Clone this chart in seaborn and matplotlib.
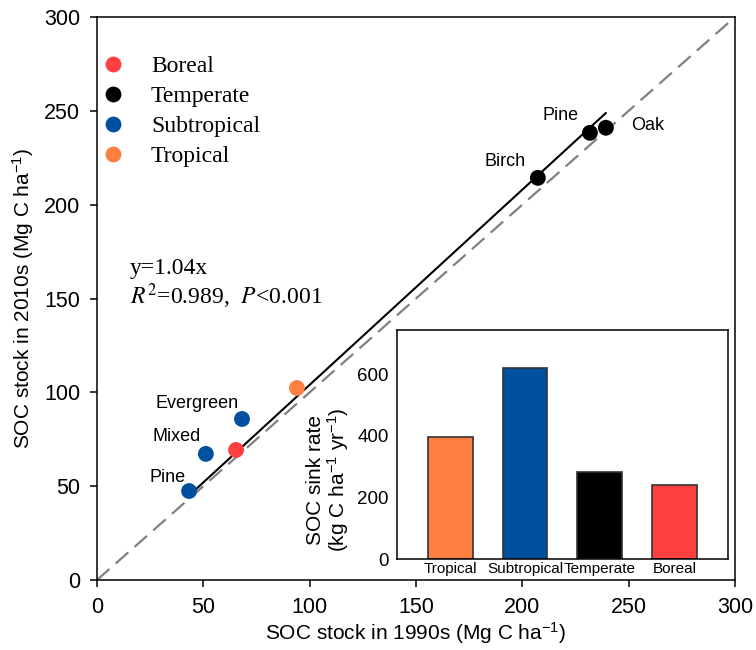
import numpy as np
import pandas as pd
import seaborn as sns
import matplotlib.pyplot as plt

sns.set_theme(style='white')
plt.rcParams['font.family'] = ['Liberation Sans', 'DejaVu Sans']
plt.rcParams['text.color'] = 'black'
plt.rcParams['axes.labelcolor'] = 'black'
plt.rcParams['xtick.color'] = 'black'
plt.rcParams['ytick.color'] = 'black'
plt.rcParams['mathtext.fontset'] = 'custom'
plt.rcParams['mathtext.rm'] = 'Liberation Sans'
plt.rcParams['mathtext.it'] = 'Liberation Sans:italic'

# SOC stock per forest type (Mg C ha-1)
climate = ['Boreal', 'Temperate', 'Temperate', 'Temperate',
           'Subtropical', 'Subtropical', 'Subtropical', 'Tropical']
forest = ['', 'Birch', 'Pine', 'Oak', 'Pine', 'Mixed', 'Evergreen', '']
soc_1990s = [65.4, 207.3, 231.8, 239.3, 43.3, 51.2, 68.2, 94.0]
soc_2010s = [69.3, 214.3, 238.3, 241.0, 47.4, 67.2, 85.8, 102.3]

# sink rate by climate zone (kg C ha-1 yr-1)
zones = ['Tropical', 'Subtropical', 'Temperate', 'Boreal']
sink_rate = [395, 620, 281, 241]

slope = 1.04
colors = {'Boreal': '#FF4040', 'Temperate': '#000000',
          'Subtropical': '#0050A0', 'Tropical': '#FF7F40'}
legend_order = ['Boreal', 'Temperate', 'Subtropical', 'Tropical']

df = pd.DataFrame({'climate': climate, 'forest': forest,
                   'x': soc_1990s, 'y': soc_2010s})

fig = plt.figure(figsize=(7.56, 6.5), dpi=100)
ax = fig.add_axes([0.1283, 0.1077, 0.8439, 0.8661])

# 1:1 line and fitted line
ax.plot([0, 300], [0, 300], color='#808080', lw=1.6, dashes=(7.5, 3.75), zorder=1)
xs = np.array([df.x.min(), df.x.max()])
ax.plot(xs, slope * xs, color='black', lw=1.5, zorder=2)

sns.scatterplot(data=df, x='x', y='y', hue='climate', hue_order=legend_order,
                palette=colors, s=130, linewidth=0, ax=ax, zorder=3)

# forest type labels (offsets in pixels)
offsets = {('Temperate', 'Birch'): (-33, 16, 'center'),
           ('Temperate', 'Pine'): (-29, 17, 'center'),
           ('Temperate', 'Oak'): (25, 2, 'left'),
           ('Subtropical', 'Pine'): (-22, 14, 'center'),
           ('Subtropical', 'Mixed'): (-29, 17, 'center'),
           ('Subtropical', 'Evergreen'): (-45, 15, 'center')}
for _, r in df.iterrows():
    if r.forest:
        dx, dy, ha = offsets[(r.climate, r.forest)]
        ax.annotate(r.forest, (r.x, r.y), xytext=(dx, dy), textcoords='offset pixels',
                    ha=ha, va='center', fontsize=13)

ax.set_xlim(0, 300)
ax.set_ylim(0, 300)
ax.set_xticks(range(0, 301, 50))
ax.set_yticks(range(0, 301, 50))
ax.tick_params(direction='out', length=5, width=1.1, labelsize=15.5, pad=7,
               bottom=True, left=True)
for s in ax.spines.values():
    s.set_color('black')
    s.set_linewidth(1.1)
ax.set_xlabel('SOC stock in 1990s (Mg C ha$^{-1}$)', fontsize=15, labelpad=2)
ax.set_ylabel('SOC stock in 2010s (Mg C ha$^{-1}$)', fontsize=15, labelpad=6)

leg = ax.legend(loc='upper left', bbox_to_anchor=(-0.008, 0.948), frameon=False,
                prop={'family': 'Liberation Serif', 'size': 17},
                handletextpad=1.1, labelspacing=0.36, markerscale=1.0,
                borderaxespad=0.0, handlelength=1.0)

ax.text(15.5, 166, 'y=1.04x', fontsize=17, family='Liberation Serif', va='center')
ax.text(15.5, 151, '$\\mathit{R}^{2}$=0.989,  $\\mathit{P}$<0.001', fontsize=17,
        family='Liberation Serif', va='center', math_fontfamily='stix')

# inset bar chart
ins = fig.add_axes([0.525, 0.14, 0.438, 0.352])
sns.barplot(x=zones, y=sink_rate, hue=zones, palette=colors, legend=False,
            saturation=1, width=0.6, edgecolor='#333333', linewidth=1.2, ax=ins)
ins.set_xlim(-0.71, 3.71)
ins.set_ylim(0, 743)
ins.set_yticks([0, 200, 400, 600])
ins.tick_params(axis='y', length=0, labelsize=13.5, pad=6)
ins.tick_params(axis='x', length=0, labelsize=11, pad=2)
for s in ins.spines.values():
    s.set_color('black')
    s.set_linewidth(1.1)
ins.set_ylabel('SOC sink rate\n(kg C ha$^{-1}$ yr$^{-1}$)', fontsize=15, linespacing=1.0)
ins.yaxis.set_label_coords(-0.14, 0.345)

fig.savefig('out.png', dpi=100)
